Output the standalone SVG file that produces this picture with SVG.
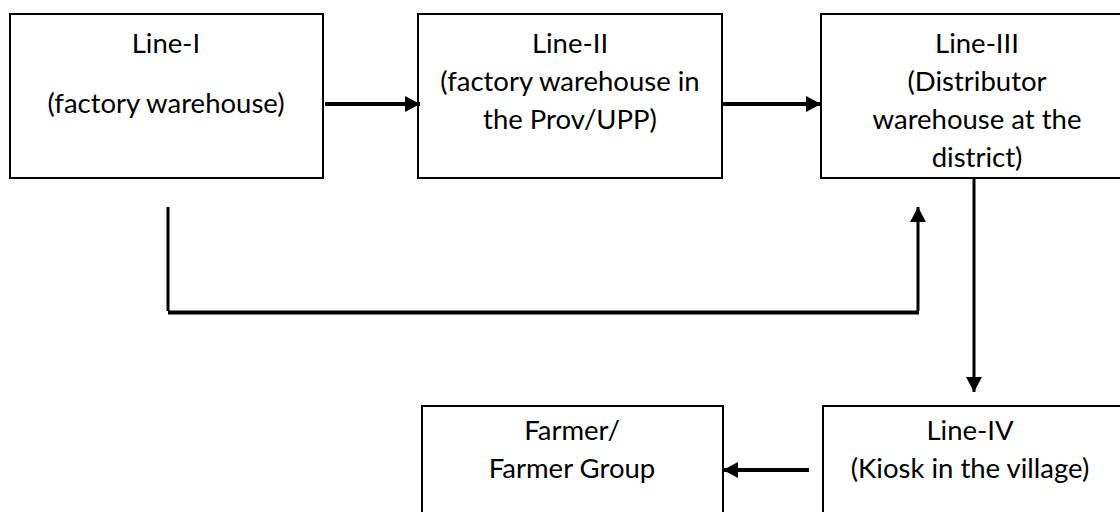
<svg xmlns="http://www.w3.org/2000/svg" width="1120" height="512" viewBox="0 0 1120 512">
<style>
.box{fill:#fff;stroke:#000;stroke-width:2}
.t{font-family:Lato,"Open Sans",sans-serif;font-size:27.5px;fill:#000;text-anchor:middle}
.c{fill:none;stroke:#000;stroke-width:3}
.h{fill:none;stroke:#000;stroke-width:4}
</style>
<defs>
<marker id="ah" markerWidth="15" markerHeight="16" refX="15" refY="8" orient="auto" markerUnits="userSpaceOnUse" viewBox="0 0 15 16">
<path d="M0,0 L15,8 L0,16 Z" fill="#000"/>
</marker>
</defs>
<rect width="1120" height="512" fill="#fff"/>
<g id="line1">
<rect class="box" x="10" y="14" width="313" height="164"/>
<text class="t" x="166" y="53">Line-I</text>
<text class="t" x="166" y="113">(factory warehouse)</text>
</g>
<g id="line2">
<rect class="box" x="418" y="14" width="304" height="164"/>
<text class="t" x="570" y="53">Line-II</text>
<text class="t" x="570" y="91">(factory warehouse in</text>
<text class="t" x="570" y="129">the Prov/UPP)</text>
</g>
<g id="line3">
<rect class="box" x="821" y="14" width="312" height="164"/>
<text class="t" x="977" y="53">Line-III</text>
<text class="t" x="977" y="91">(Distributor</text>
<text class="t" x="977" y="129">warehouse at the</text>
<text class="t" x="977" y="167">district)</text>
</g>
<g id="farmer">
<rect class="box" x="422" y="406" width="301" height="120"/>
<text class="t" x="572" y="440">Farmer/</text>
<text class="t" x="572" y="478">Farmer Group</text>
</g>
<g id="line4">
<rect class="box" x="823" y="406" width="300" height="120"/>
<text class="t" x="970" y="440">Line-IV</text>
<text class="t" x="970" y="478">(Kiosk in the village)</text>
</g>
<g id="connectors">
<line class="h" x1="325" y1="104" x2="420" y2="104" marker-end="url(#ah)"/>
<line class="h" x1="722" y1="104" x2="821" y2="104" marker-end="url(#ah)"/>
<line class="c" x1="168" y1="207" x2="168" y2="311"/>
<line x1="168" y1="312.5" x2="919" y2="312.5" stroke="#000" stroke-width="4"/>
<line class="c" x1="918" y1="311" x2="918" y2="207" marker-end="url(#ah)"/>
<line class="c" x1="974" y1="178" x2="974" y2="392" marker-end="url(#ah)"/>
<line class="h" x1="809" y1="470" x2="723" y2="470" marker-end="url(#ah)"/>
</g>
</svg>
